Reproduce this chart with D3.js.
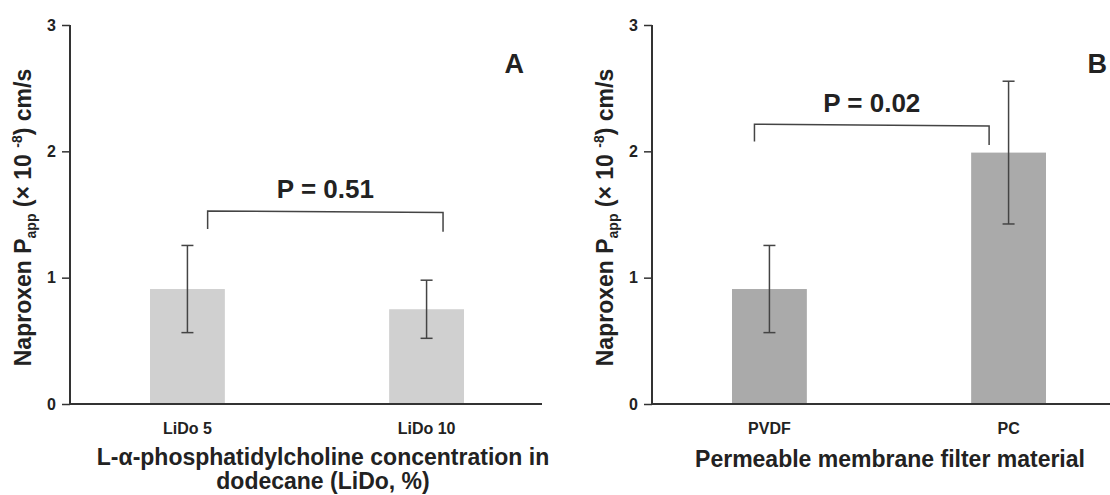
<!DOCTYPE html>
<html>
<head>
<meta charset="utf-8">
<script src="https://cdn.jsdelivr.net/npm/d3@7"></script>
<style>
  body { margin: 0; background: #fff; }
  text { font-family: "Liberation Sans", Arial, sans-serif; fill: #222; font-weight: bold; }
</style>
</head>
<body>
<div id="chart"></div>
<script>
// data
var catsA = ["LiDo 5", "LiDo 10"];
var meansA = [0.91, 0.75];
var errsA = [0.345, 0.23];

var catsB = ["PVDF", "PC"];
var meansB = [0.91, 1.99];
var errsB = [0.345, 0.565];

var yTicks = [0, 1, 2, 3];

// significance brackets: [leftTop, rightTop, leftLeg, rightLeg] in data units
var bracketA = [1.528, 1.515, 1.386, 1.364];
var bracketB = [2.215, 2.2, 2.077, 2.05];
var pTextA = "P = 0.51";
var pTextB = "P = 0.02";

var svgWidth = 1110;
var svgHeight = 495;

var svg = d3.select("#chart")
  .append("svg")
  .attr("width", svgWidth)
  .attr("height", svgHeight);

var yScale = d3.scaleLinear()
  .domain([0, 3])
  .range([404, 25]);

function drawPanel(opt) {
  var g = svg.append("g");

  var x = d3.scaleBand()
    .domain(opt.cats)
    .range([opt.left + 80, opt.left + 394])
    .paddingInner(0.687)
    .paddingOuter(0);

  // bars
  g.selectAll("rect.bar")
    .data(opt.cats)
    .enter()
    .append("rect")
    .attr("class", "bar")
    .attr("x", d => x(d))
    .attr("width", x.bandwidth())
    .attr("y", (d, i) => yScale(opt.means[i]))
    .attr("height", (d, i) => yScale(0) - yScale(opt.means[i]))
    .attr("fill", opt.color);

  // error bars
  var eb = g.selectAll("g.err")
    .data(opt.cats)
    .enter()
    .append("g")
    .attr("class", "err")
    .attr("stroke", "#444")
    .attr("stroke-width", 1.5);
  eb.append("line")
    .attr("x1", d => x(d) + x.bandwidth() / 2)
    .attr("x2", d => x(d) + x.bandwidth() / 2)
    .attr("y1", (d, i) => yScale(opt.means[i] + opt.errs[i]))
    .attr("y2", (d, i) => yScale(opt.means[i] - opt.errs[i]));
  [1, -1].forEach(function(s) {
    eb.append("line")
      .attr("x1", d => x(d) + x.bandwidth() / 2 - 6)
      .attr("x2", d => x(d) + x.bandwidth() / 2 + 6)
      .attr("y1", (d, i) => yScale(opt.means[i] + s * opt.errs[i]))
      .attr("y2", (d, i) => yScale(opt.means[i] + s * opt.errs[i]));
  });

  // y axis
  var yAxis = d3.axisLeft(yScale)
    .tickValues(yTicks)
    .tickFormat(d3.format("d"))
    .tickSize(8)
    .tickPadding(6);
  var yg = g.append("g")
    .attr("transform", `translate(${opt.left}, 0)`)
    .call(yAxis);
  yg.select(".domain").remove();
  yg.selectAll(".tick line").attr("stroke", "#333").attr("stroke-width", 1.5);
  yg.selectAll(".tick text")
    .attr("font-size", "16px")
    .attr("font-family", "Liberation Sans, Arial, sans-serif")
    .attr("fill", "#222");

  g.append("line")
    .attr("x1", opt.left).attr("x2", opt.left)
    .attr("y1", yScale(3)).attr("y2", yScale(0))
    .attr("stroke", "#333").attr("stroke-width", 2);

  // x axis line
  g.append("line")
    .attr("x1", opt.left - 1).attr("x2", opt.right)
    .attr("y1", yScale(0)).attr("y2", yScale(0))
    .attr("stroke", "#333").attr("stroke-width", 2);

  // category labels
  g.selectAll("text.cat")
    .data(opt.cats)
    .enter()
    .append("text")
    .attr("class", "cat")
    .attr("x", d => x(d) + x.bandwidth() / 2)
    .attr("y", 434)
    .attr("text-anchor", "middle")
    .attr("font-size", "16px")
    .text(d => d);

  // x title
  var xt = g.append("text")
    .attr("text-anchor", "middle")
    .attr("font-size", "23px");
  opt.xTitle.forEach(function(line, i) {
    xt.append("tspan")
      .attr("x", opt.titleX)
      .attr("y", opt.titleY + i * 24)
      .text(line);
  });

  // y title
  var yt = g.append("text")
    .attr("transform", `translate(${opt.left - 39}, 217.5) rotate(-90)`)
    .attr("text-anchor", "middle")
    .attr("font-size", "23px");
  yt.append("tspan").text("Naproxen P");
  yt.append("tspan").attr("dy", 5).attr("font-size", "14px").text("app");
  yt.append("tspan").attr("dy", -5).text(" (× 10 ");
  yt.append("tspan").attr("dy", -9).attr("font-size", "14px").text("-8");
  yt.append("tspan").attr("dy", 9).text(") cm/s");

  // bracket
  var b = opt.bracket;
  var xl = x(opt.cats[0]) + x.bandwidth() * opt.bracketPos[0];
  var xr = x(opt.cats[1]) + x.bandwidth() * opt.bracketPos[1];
  g.append("path")
    .attr("d", `M${xl},${yScale(b[2])}L${xl},${yScale(b[0])}L${xr},${yScale(b[1])}L${xr},${yScale(b[3])}`)
    .attr("fill", "none")
    .attr("stroke", "#444")
    .attr("stroke-width", 1.5);
  g.append("text")
    .attr("x", (xl + xr) / 2)
    .attr("y", yScale(opt.pY))
    .attr("text-anchor", "middle")
    .attr("font-size", "26px")
    .text(opt.pText);

  // panel letter
  g.append("text")
    .attr("x", opt.letterX)
    .attr("y", 73)
    .attr("text-anchor", "end")
    .attr("font-size", "27px")
    .text(opt.letter);
}

drawPanel({
  cats: catsA, means: meansA, errs: errsA,
  left: 70, right: 542, color: "#d0d0d0",
  xTitle: ["L-α-phosphatidylcholine concentration in", "dodecane (LiDo, %)"],
  titleX: 323, titleY: 465,
  bracket: bracketA, bracketPos: [0.77, 0.72],
  pText: pTextA, pY: 1.633,
  letter: "A", letterX: 524
});

drawPanel({
  cats: catsB, means: meansB, errs: errsB,
  left: 652, right: 1110, color: "#aaaaaa",
  xTitle: ["Permeable membrane filter material"],
  titleX: 890, titleY: 467,
  bracket: bracketB, bracketPos: [0.30, 0.24],
  pText: pTextB, pY: 2.314,
  letter: "B", letterX: 1107
});
</script>
</body>
</html>
